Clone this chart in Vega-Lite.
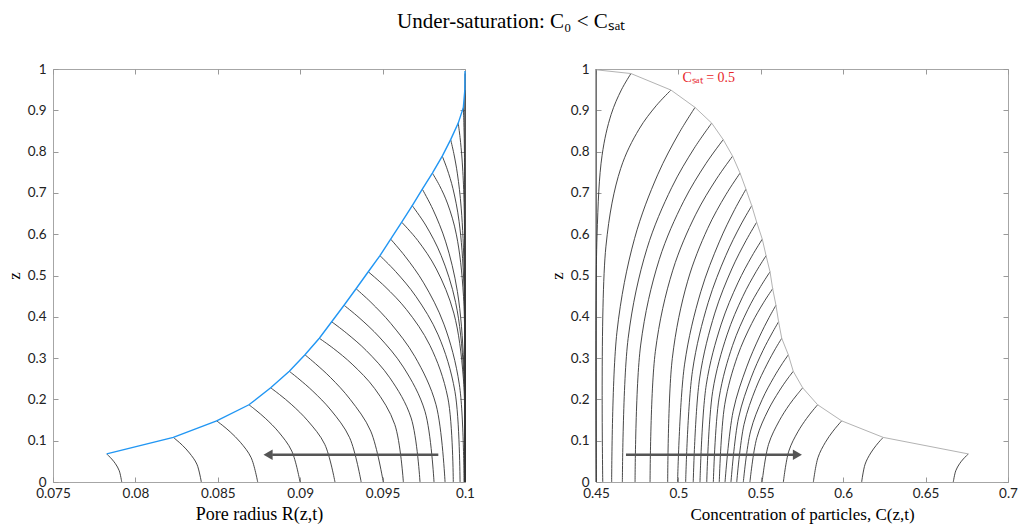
{
"$schema": "https://vega.github.io/schema/vega-lite/v6.json",
"background": "white",
"padding": {"left": 4, "top": 10, "right": 6, "bottom": 4},
"title": {"text": "Under-saturation: C₀ < Cₛₐₜ", "font": "Liberation Serif", "fontSize": 21, "fontWeight": "normal", "color": "black", "anchor": "middle", "offset": 30},
"config": {"view": {"stroke": "#a6a6a6", "strokeWidth": 1}},
"datasets": {
"leftCurves": [
{"k":1,"r":0.07917,"z":0},{"k":1,"r":0.07902,"z":0.0272},{"k":1,"r":0.07879,"z":0.0442},{"k":1,"r":0.07856,"z":0.0558},{"k":1,"r":0.07838,"z":0.0632},{"k":1,"r":0.07826,"z":0.068},
{"k":2,"r":0.0840,"z":0},{"k":2,"r":0.08373,"z":0.0432},{"k":2,"r":0.08328,"z":0.0702},{"k":2,"r":0.08286,"z":0.0886},{"k":2,"r":0.08253,"z":0.1004},{"k":2,"r":0.0823,"z":0.108},
{"k":3,"r":0.08742,"z":0},{"k":3,"r":0.08702,"z":0.0592},{"k":3,"r":0.08637,"z":0.0962},{"k":3,"r":0.08575,"z":0.1214},{"k":3,"r":0.08527,"z":0.1376},{"k":3,"r":0.08493,"z":0.148},
{"k":4,"r":0.08999,"z":0},{"k":4,"r":0.08949,"z":0.0748},{"k":4,"r":0.08868,"z":0.1216},{"k":4,"r":0.08791,"z":0.1533},{"k":4,"r":0.08731,"z":0.1739},{"k":4,"r":0.08689,"z":0.187},
{"k":5,"r":0.09211,"z":0},{"k":5,"r":0.09149,"z":0.0912},{"k":5,"r":0.09046,"z":0.1482},{"k":5,"r":0.08949,"z":0.187},{"k":5,"r":0.08874,"z":0.212},{"k":5,"r":0.08821,"z":0.228},
{"k":6,"r":0.0937,"z":0},{"k":6,"r":0.093,"z":0.1072},{"k":6,"r":0.09186,"z":0.1742},{"k":6,"r":0.09077,"z":0.2198},{"k":6,"r":0.08993,"z":0.2492},{"k":6,"r":0.08934,"z":0.268},
{"k":7,"r":0.09504,"z":0},{"k":7,"r":0.09428,"z":0.1232},{"k":7,"r":0.09303,"z":0.2002},{"k":7,"r":0.09185,"z":0.2526},{"k":7,"r":0.09093,"z":0.2864},{"k":7,"r":0.09029,"z":0.308},
{"k":8,"r":0.09626,"z":0},{"k":8,"r":0.09574,"z":0.1392},{"k":8,"r":0.09452,"z":0.2262},{"k":8,"r":0.09315,"z":0.2854},{"k":8,"r":0.09201,"z":0.3236},{"k":8,"r":0.09116,"z":0.348},
{"k":9,"r":0.09727,"z":0},{"k":9,"r":0.09673,"z":0.1552},{"k":9,"r":0.09544,"z":0.2522},{"k":9,"r":0.09401,"z":0.3182},{"k":9,"r":0.0928,"z":0.3608},{"k":9,"r":0.09191,"z":0.388},
{"k":10,"r":0.09812,"z":0},{"k":10,"r":0.09757,"z":0.1712},{"k":10,"r":0.09626,"z":0.2782},{"k":10,"r":0.0948,"z":0.351},{"k":10,"r":0.09357,"z":0.398},{"k":10,"r":0.09266,"z":0.428},
{"k":11,"r":0.09879,"z":0},{"k":11,"r":0.09824,"z":0.1872},{"k":11,"r":0.09695,"z":0.3042},{"k":11,"r":0.0955,"z":0.3838},{"k":11,"r":0.09429,"z":0.4352},{"k":11,"r":0.09339,"z":0.468},
{"k":12,"r":0.09929,"z":0},{"k":12,"r":0.09896,"z":0.2036},{"k":12,"r":0.09787,"z":0.3309},{"k":12,"r":0.09645,"z":0.4174},{"k":12,"r":0.09514,"z":0.4734},{"k":12,"r":0.09413,"z":0.509},
{"k":13,"r":0.0997,"z":0},{"k":13,"r":0.09939,"z":0.2192},{"k":13,"r":0.09837,"z":0.3562},{"k":13,"r":0.09702,"z":0.4494},{"k":13,"r":0.09579,"z":0.5096},{"k":13,"r":0.09484,"z":0.548},
{"k":14,"r":0.09994,"z":0},{"k":14,"r":0.09966,"z":0.2352},{"k":14,"r":0.09872,"z":0.3822},{"k":14,"r":0.09749,"z":0.4822},{"k":14,"r":0.09636,"z":0.5468},{"k":14,"r":0.09549,"z":0.588},
{"k":15,"r":0.1,"z":0},{"k":15,"r":0.0999,"z":0.2516},{"k":15,"r":0.09932,"z":0.4089},{"k":15,"r":0.09826,"z":0.5158},{"k":15,"r":0.09713,"z":0.585},{"k":15,"r":0.09616,"z":0.629},
{"k":16,"r":0.1,"z":0},{"k":16,"r":0.09992,"z":0.2676},{"k":16,"r":0.09943,"z":0.4349},{"k":16,"r":0.09855,"z":0.5486},{"k":16,"r":0.09761,"z":0.6222},{"k":16,"r":0.0968,"z":0.669},
{"k":17,"r":0.1,"z":0},{"k":17,"r":0.09993,"z":0.2836},{"k":17,"r":0.09954,"z":0.4609},{"k":17,"r":0.09883,"z":0.5814},{"k":17,"r":0.09806,"z":0.6594},{"k":17,"r":0.09741,"z":0.709},
{"k":18,"r":0.1,"z":0},{"k":18,"r":0.09991,"z":0.4488},{"k":18,"r":0.09948,"z":0.5984},{"k":18,"r":0.09895,"z":0.6732},{"k":18,"r":0.09845,"z":0.7181},{"k":18,"r":0.09802,"z":0.748},
{"k":19,"r":0.1,"z":0},{"k":19,"r":0.09994,"z":0.4734},{"k":19,"r":0.09964,"z":0.6312},{"k":19,"r":0.09927,"z":0.7101},{"k":19,"r":0.09892,"z":0.7574},{"k":19,"r":0.09862,"z":0.789},
{"k":20,"r":0.1,"z":0},{"k":20,"r":0.09996,"z":0.4974},{"k":20,"r":0.09977,"z":0.6632},{"k":20,"r":0.09954,"z":0.7461},{"k":20,"r":0.09932,"z":0.7958},{"k":20,"r":0.09913,"z":0.829},
{"k":21,"r":0.1,"z":0},{"k":21,"r":0.09999,"z":0.5214},{"k":21,"r":0.09993,"z":0.6952},{"k":21,"r":0.09982,"z":0.7821},{"k":21,"r":0.0997,"z":0.8342},{"k":21,"r":0.09959,"z":0.869},
{"k":22,"r":0.1,"z":0},{"k":22,"r":0.1,"z":0.5442},{"k":22,"r":0.09998,"z":0.7256},{"k":22,"r":0.09996,"z":0.8163},{"k":22,"r":0.09993,"z":0.8707},{"k":22,"r":0.0999,"z":0.907},
{"k":23,"r":0.1,"z":0},{"k":23,"r":0.1,"z":0.949},
{"k":24,"r":0.1,"z":0},{"k":24,"r":0.1,"z":0.989}
],
"leftFront": [
{"r":0.07826,"z":0.068},{"r":0.0823,"z":0.108},{"r":0.08493,"z":0.148},{"r":0.08689,"z":0.187},{"r":0.08821,"z":0.228},{"r":0.08934,"z":0.268},{"r":0.09029,"z":0.308},{"r":0.09116,"z":0.348},{"r":0.09191,"z":0.388},{"r":0.09266,"z":0.428},{"r":0.09339,"z":0.468},{"r":0.09413,"z":0.509},{"r":0.09484,"z":0.548},{"r":0.09549,"z":0.588},{"r":0.09616,"z":0.629},{"r":0.0968,"z":0.669},{"r":0.09741,"z":0.709},{"r":0.09802,"z":0.748},{"r":0.09862,"z":0.789},{"r":0.09913,"z":0.829},{"r":0.09959,"z":0.869},{"r":0.0999,"z":0.907},{"r":0.09999,"z":0.949},{"r":0.1,"z":0.989},{"r":0.1,"z":0.995}
],
"rightCurves": [
{"k":0,"c":0.45,"z":0},{"k":0,"c":0.45,"z":1},
{"k":1,"c":0.6668,"z":0},{"k":1,"c":0.6683,"z":0.0272},{"k":1,"c":0.6706,"z":0.0442},{"k":1,"c":0.6729,"z":0.0558},{"k":1,"c":0.6747,"z":0.0632},{"k":1,"c":0.6759,"z":0.068},
{"k":2,"c":0.6112,"z":0},{"k":2,"c":0.6133,"z":0.0432},{"k":2,"c":0.6167,"z":0.0702},{"k":2,"c":0.62,"z":0.0886},{"k":2,"c":0.6225,"z":0.1004},{"k":2,"c":0.6243,"z":0.108},
{"k":3,"c":0.5819,"z":0},{"k":3,"c":0.5847,"z":0.0592},{"k":3,"c":0.5892,"z":0.0962},{"k":3,"c":0.5935,"z":0.1214},{"k":3,"c":0.5968,"z":0.1376},{"k":3,"c":0.5991,"z":0.148},
{"k":4,"c":0.5637,"z":0},{"k":4,"c":0.567,"z":0.0748},{"k":4,"c":0.5725,"z":0.1216},{"k":4,"c":0.5777,"z":0.1533},{"k":4,"c":0.5817,"z":0.1739},{"k":4,"c":0.5845,"z":0.187},
{"k":5,"c":0.5508,"z":0},{"k":5,"c":0.5547,"z":0.0912},{"k":5,"c":0.5612,"z":0.1482},{"k":5,"c":0.5673,"z":0.187},{"k":5,"c":0.5721,"z":0.212},{"k":5,"c":0.5754,"z":0.228},
{"k":6,"c":0.5434,"z":0},{"k":6,"c":0.5476,"z":0.1072},{"k":6,"c":0.5545,"z":0.1742},{"k":6,"c":0.5611,"z":0.2198},{"k":6,"c":0.5661,"z":0.2492},{"k":6,"c":0.5697,"z":0.268},
{"k":7,"c":0.5394,"z":0},{"k":7,"c":0.5438,"z":0.1232},{"k":7,"c":0.5509,"z":0.2002},{"k":7,"c":0.5578,"z":0.2526},{"k":7,"c":0.563,"z":0.2864},{"k":7,"c":0.5667,"z":0.308},
{"k":8,"c":0.5354,"z":0},{"k":8,"c":0.5398,"z":0.1392},{"k":8,"c":0.5469,"z":0.2262},{"k":8,"c":0.5538,"z":0.2854},{"k":8,"c":0.559,"z":0.3236},{"k":8,"c":0.5627,"z":0.348},
{"k":9,"c":0.5319,"z":0},{"k":9,"c":0.5365,"z":0.1552},{"k":9,"c":0.5441,"z":0.2522},{"k":9,"c":0.5513,"z":0.3182},{"k":9,"c":0.5569,"z":0.3608},{"k":9,"c":0.5608,"z":0.388},
{"k":10,"c":0.5283,"z":0},{"k":10,"c":0.5332,"z":0.1712},{"k":10,"c":0.5414,"z":0.2782},{"k":10,"c":0.5491,"z":0.351},{"k":10,"c":0.555,"z":0.398},{"k":10,"c":0.5592,"z":0.428},
{"k":11,"c":0.5248,"z":0},{"k":11,"c":0.5281,"z":0.1872},{"k":11,"c":0.5358,"z":0.3042},{"k":11,"c":0.5445,"z":0.3838},{"k":11,"c":0.5518,"z":0.4352},{"k":11,"c":0.5572,"z":0.468},
{"k":12,"c":0.5212,"z":0},{"k":12,"c":0.5247,"z":0.2036},{"k":12,"c":0.5329,"z":0.3309},{"k":12,"c":0.5421,"z":0.4174},{"k":12,"c":0.5499,"z":0.4734},{"k":12,"c":0.5556,"z":0.509},
{"k":13,"c":0.5172,"z":0},{"k":13,"c":0.5208,"z":0.2192},{"k":13,"c":0.5295,"z":0.3562},{"k":13,"c":0.5391,"z":0.4494},{"k":13,"c":0.5472,"z":0.5096},{"k":13,"c":0.5532,"z":0.548},
{"k":14,"c":0.5131,"z":0},{"k":14,"c":0.5169,"z":0.2352},{"k":14,"c":0.526,"z":0.3822},{"k":14,"c":0.5361,"z":0.4822},{"k":14,"c":0.5446,"z":0.5468},{"k":14,"c":0.5509,"z":0.588},
{"k":15,"c":0.509,"z":0},{"k":15,"c":0.5129,"z":0.2516},{"k":15,"c":0.5221,"z":0.4089},{"k":15,"c":0.5324,"z":0.5158},{"k":15,"c":0.5411,"z":0.585},{"k":15,"c":0.5475,"z":0.629},
{"k":16,"c":0.5044,"z":0},{"k":16,"c":0.5085,"z":0.2676},{"k":16,"c":0.5181,"z":0.4349},{"k":16,"c":0.5288,"z":0.5486},{"k":16,"c":0.5378,"z":0.6222},{"k":16,"c":0.5445,"z":0.669},
{"k":17,"c":0.4995,"z":0},{"k":17,"c":0.5037,"z":0.2836},{"k":17,"c":0.5136,"z":0.4609},{"k":17,"c":0.5248,"z":0.5814},{"k":17,"c":0.5341,"z":0.6594},{"k":17,"c":0.541,"z":0.709},
{"k":18,"c":0.4935,"z":0},{"k":18,"c":0.4963,"z":0.2992},{"k":18,"c":0.5056,"z":0.4862},{"k":18,"c":0.5177,"z":0.6134},{"k":18,"c":0.5288,"z":0.6956},{"k":18,"c":0.5374,"z":0.748},
{"k":19,"c":0.4828,"z":0},{"k":19,"c":0.486,"z":0.3156},{"k":19,"c":0.4966,"z":0.5129},{"k":19,"c":0.5104,"z":0.647},{"k":19,"c":0.5231,"z":0.7338},{"k":19,"c":0.5329,"z":0.789},
{"k":20,"c":0.4737,"z":0},{"k":20,"c":0.4771,"z":0.3316},{"k":20,"c":0.4884,"z":0.5389},{"k":20,"c":0.5032,"z":0.6798},{"k":20,"c":0.5167,"z":0.771},{"k":20,"c":0.5272,"z":0.829},
{"k":21,"c":0.466,"z":0},{"k":21,"c":0.4695,"z":0.3476},{"k":21,"c":0.4809,"z":0.5649},{"k":21,"c":0.4959,"z":0.7126},{"k":21,"c":0.5096,"z":0.8082},{"k":21,"c":0.5202,"z":0.869},
{"k":22,"c":0.4595,"z":0},{"k":22,"c":0.4627,"z":0.3628},{"k":22,"c":0.4734,"z":0.5896},{"k":22,"c":0.4874,"z":0.7437},{"k":22,"c":0.5002,"z":0.8435},{"k":22,"c":0.5101,"z":0.907},
{"k":23,"c":0.4541,"z":0},{"k":23,"c":0.456,"z":0.5694},{"k":23,"c":0.465,"z":0.7592},{"k":23,"c":0.4761,"z":0.8541},{"k":23,"c":0.4865,"z":0.911},{"k":23,"c":0.4955,"z":0.949},
{"k":24,"c":0.4502,"z":0},{"k":24,"c":0.4506,"z":0.5934},{"k":24,"c":0.4537,"z":0.7912},{"k":24,"c":0.4592,"z":0.8901},{"k":24,"c":0.4654,"z":0.9494},{"k":24,"c":0.4712,"z":0.989}
],
"rightFront": [
{"c":0.4502,"z":0.998},{"c":0.4712,"z":0.989},{"c":0.4955,"z":0.949},{"c":0.5101,"z":0.907},{"c":0.5202,"z":0.869},{"c":0.5272,"z":0.829},{"c":0.5329,"z":0.789},{"c":0.5374,"z":0.748},{"c":0.541,"z":0.709},{"c":0.5445,"z":0.669},{"c":0.5475,"z":0.629},{"c":0.5509,"z":0.588},{"c":0.5532,"z":0.548},{"c":0.5556,"z":0.509},{"c":0.5572,"z":0.468},{"c":0.5592,"z":0.428},{"c":0.5608,"z":0.388},{"c":0.5627,"z":0.348},{"c":0.5667,"z":0.308},{"c":0.5697,"z":0.268},{"c":0.5754,"z":0.228},{"c":0.5845,"z":0.187},{"c":0.5991,"z":0.148},{"c":0.6243,"z":0.108},{"c":0.6759,"z":0.068}
],
"leftArrow": [{"x1":0.09838,"x2":0.0883,"head":0.08805,"z":0.0662}],
"rightArrow": [{"x1":0.4682,"x2":0.571,"head":0.5722,"z":0.0662}],
"satLabel": [{"c":0.5025,"z":0.978,"label":"Cₛₐₜ = 0.5"}]
},
"spacing": 131,
"bounds": "flush",
"hconcat": [
{
"width": 412, "height": 413,
"resolve": {"axis": {"x": "independent", "y": "independent"}},
"layer": [
{"data": {"name": "leftCurves"}, "mark": {"type": "line", "color": "#333333", "strokeWidth": 0.9, "interpolate": "catmull-rom"},
 "encoding": {
  "x": {"field": "r", "type": "quantitative", "scale": {"domain": [0.075, 0.1], "nice": false, "zero": false},
        "axis": {"orient": "bottom", "values": [0.075, 0.08, 0.085, 0.09, 0.095, 0.1], "format": "~g", "domain": false, "grid": false, "ticks": false, "tickSize": 0, "labelFlush": false, "labelFont": "Lato", "labelFontSize": 13.5, "labelColor": "#222222", "labelPadding": 4, "title": "Pore radius R(z,t)", "titleFont": "Liberation Serif", "titleFontSize": 18, "titleFontWeight": "normal", "titleColor": "black", "titlePadding": 6}},
  "y": {"field": "z", "type": "quantitative", "scale": {"domain": [0, 1], "nice": false, "zero": false},
        "axis": {"orient": "left", "values": [0, 0.1, 0.2, 0.3, 0.4, 0.5, 0.6, 0.7, 0.8, 0.9, 1], "format": "~g", "domain": false, "grid": false, "ticks": false, "tickSize": 0, "labelFont": "Lato", "labelFontSize": 13.5, "labelColor": "#222222", "labelPadding": 7, "title": "z", "titleFont": "Liberation Serif", "titleFontSize": 17, "titleFontWeight": "normal", "titleColor": "black", "titlePadding": 4}},
  "detail": {"field": "k", "type": "nominal"},
  "order": {"field": "z", "type": "quantitative"}
 }},
{"data": {"name": "leftFront"}, "mark": {"type": "line", "color": "#2196f3", "strokeWidth": 1.4},
 "encoding": {
  "x": {"field": "r", "type": "quantitative", "scale": {"domain": [0.075, 0.1], "nice": false, "zero": false},
        "axis": {"orient": "top", "values": [0.075, 0.08, 0.085, 0.09, 0.095, 0.1], "labels": false, "domain": false, "grid": false, "tickSize": -5, "tickColor": "#999999", "title": null}},
  "y": {"field": "z", "type": "quantitative", "scale": {"domain": [0, 1], "nice": false, "zero": false},
        "axis": {"orient": "right", "values": [0, 0.1, 0.2, 0.3, 0.4, 0.5, 0.6, 0.7, 0.8, 0.9, 1], "labels": false, "domain": false, "grid": false, "tickSize": -5, "tickColor": "#999999", "title": null}},
  "order": {"field": "z", "type": "quantitative"}
 }},
{"data": {"name": "leftArrow"}, "mark": {"type": "rule", "color": "#555555", "strokeWidth": 2.5},
 "encoding": {
  "x": {"field": "x1", "type": "quantitative", "axis": {"orient": "bottom", "values": [0.075, 0.08, 0.085, 0.09, 0.095, 0.1], "labels": false, "domain": false, "grid": false, "tickSize": -5, "tickColor": "#999999", "title": null}},
  "x2": {"field": "x2"},
  "y": {"field": "z", "type": "quantitative", "axis": {"orient": "left", "values": [0, 0.1, 0.2, 0.3, 0.4, 0.5, 0.6, 0.7, 0.8, 0.9, 1], "labels": false, "domain": false, "grid": false, "tickSize": -5, "tickColor": "#999999", "title": null}}}},
{"data": {"name": "leftArrow"}, "mark": {"type": "point", "shape": "triangle-left", "filled": true, "color": "#555555", "size": 110, "opacity": 1},
 "encoding": {"x": {"field": "head", "type": "quantitative", "axis": null}, "y": {"field": "z", "type": "quantitative", "axis": null}}}
]
},
{
"width": 412, "height": 413,
"resolve": {"axis": {"x": "independent", "y": "independent"}},
"layer": [
{"data": {"name": "rightCurves"}, "mark": {"type": "line", "color": "#333333", "strokeWidth": 0.9, "interpolate": "catmull-rom"},
 "encoding": {
  "x": {"field": "c", "type": "quantitative", "scale": {"domain": [0.45, 0.7], "nice": false, "zero": false},
        "axis": {"orient": "bottom", "values": [0.45, 0.5, 0.55, 0.6, 0.65, 0.7], "format": "~g", "domain": false, "grid": false, "ticks": false, "tickSize": 0, "labelFlush": false, "labelFont": "Lato", "labelFontSize": 13.5, "labelColor": "#222222", "labelPadding": 4, "title": "Concentration of particles, C(z,t)", "titleFont": "Liberation Serif", "titleFontSize": 17, "titleFontWeight": "normal", "titleColor": "black", "titlePadding": 7}},
  "y": {"field": "z", "type": "quantitative", "scale": {"domain": [0, 1], "nice": false, "zero": false},
        "axis": {"orient": "left", "values": [0, 0.1, 0.2, 0.3, 0.4, 0.5, 0.6, 0.7, 0.8, 0.9, 1], "format": "~g", "domain": false, "grid": false, "ticks": false, "tickSize": 0, "labelFont": "Lato", "labelFontSize": 13.5, "labelColor": "#222222", "labelPadding": 7, "title": "z", "titleFont": "Liberation Serif", "titleFontSize": 17, "titleFontWeight": "normal", "titleColor": "black", "titlePadding": 4}},
  "detail": {"field": "k", "type": "nominal"},
  "order": {"field": "z", "type": "quantitative"}
 }},
{"data": {"name": "rightFront"}, "mark": {"type": "line", "color": "#b3b3b3", "strokeWidth": 1},
 "encoding": {
  "x": {"field": "c", "type": "quantitative", "scale": {"domain": [0.45, 0.7], "nice": false, "zero": false},
        "axis": {"orient": "top", "values": [0.45, 0.5, 0.55, 0.6, 0.65, 0.7], "labels": false, "domain": false, "grid": false, "tickSize": -5, "tickColor": "#999999", "title": null}},
  "y": {"field": "z", "type": "quantitative", "scale": {"domain": [0, 1], "nice": false, "zero": false},
        "axis": {"orient": "right", "values": [0, 0.1, 0.2, 0.3, 0.4, 0.5, 0.6, 0.7, 0.8, 0.9, 1], "labels": false, "domain": false, "grid": false, "tickSize": -5, "tickColor": "#999999", "title": null}},
  "order": {"field": "z", "type": "quantitative"}
 }},
{"mark": {"type": "rule", "color": "#ff3b3b", "strokeWidth": 1, "strokeDash": [4, 3]},
 "encoding": {"x": {"datum": 0.5, "type": "quantitative", "axis": null}}},
{"data": {"name": "satLabel"}, "mark": {"type": "text", "color": "#e8262a", "font": "Liberation Serif", "fontSize": 14, "align": "left", "baseline": "middle"},
 "encoding": {"x": {"field": "c", "type": "quantitative", "axis": null}, "y": {"field": "z", "type": "quantitative", "axis": null}, "text": {"field": "label"}}},
{"data": {"name": "rightArrow"}, "mark": {"type": "rule", "color": "#555555", "strokeWidth": 2.5},
 "encoding": {
  "x": {"field": "x1", "type": "quantitative", "axis": {"orient": "bottom", "values": [0.45, 0.5, 0.55, 0.6, 0.65, 0.7], "labels": false, "domain": false, "grid": false, "tickSize": -5, "tickColor": "#999999", "title": null}},
  "x2": {"field": "x2"},
  "y": {"field": "z", "type": "quantitative", "axis": {"orient": "left", "values": [0, 0.1, 0.2, 0.3, 0.4, 0.5, 0.6, 0.7, 0.8, 0.9, 1], "labels": false, "domain": false, "grid": false, "tickSize": -5, "tickColor": "#999999", "title": null}}}},
{"data": {"name": "rightArrow"}, "mark": {"type": "point", "shape": "triangle-right", "filled": true, "color": "#555555", "size": 110, "opacity": 1},
 "encoding": {"x": {"field": "head", "type": "quantitative", "axis": null}, "y": {"field": "z", "type": "quantitative", "axis": null}}}
]
}
]
}
